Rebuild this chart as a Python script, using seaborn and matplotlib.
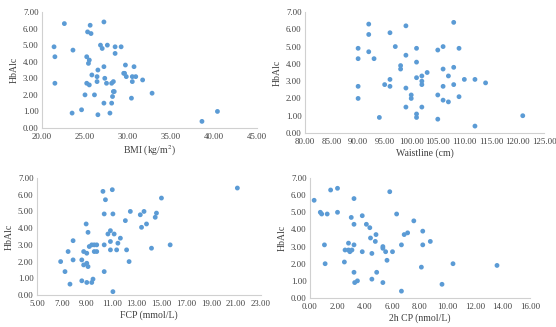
import numpy as np
import pandas as pd
import seaborn as sns
import matplotlib.pyplot as plt

# HbA1c vs BMI
bmi = [22.6, 25.6, 27.2, 25.3, 25.7, 21.4, 23.6, 26.8, 27.0, 27.6, 28.5, 29.2, 28.5,
       21.5, 25.2, 25.5, 25.4, 26.5, 27.2, 29.7, 30.7, 25.8, 26.4, 27.3, 29.5, 29.6,
       29.8, 30.5, 30.9, 30.5, 31.7, 21.5, 25.2, 25.5, 26.4, 27.5, 28.1, 28.3, 32.8,
       25.0, 26.1, 28.3, 28.4, 28.2, 30.4, 27.2, 28.1, 24.6, 23.5, 26.5, 27.9, 38.6, 40.4]
hba1c_bmi = [6.3, 6.2, 6.4, 5.8, 5.7, 4.9, 4.7, 5.0, 4.8, 5.0, 4.9, 4.9, 4.5,
             4.3, 4.3, 4.1, 3.9, 3.5, 3.7, 3.8, 3.7, 3.2, 3.1, 3.0, 3.3, 3.3,
             3.1, 3.1, 3.1, 2.8, 2.9, 2.7, 2.7, 2.6, 2.8, 2.7, 2.7, 2.8, 2.1,
             2.0, 2.0, 2.2, 2.2, 1.9, 1.8, 1.5, 1.5, 1.1, 0.9, 0.8, 0.9, 0.4, 1.0]

# HbA1c vs waistline
waist = [92, 99, 108, 92, 96, 90, 92, 97, 101, 105, 106, 109, 90, 93, 99, 101, 98, 98,
         106, 108, 103, 102, 107, 101, 96, 102, 110, 112, 114, 95, 96, 102, 106, 108,
         90, 99, 100, 100, 90, 105, 106, 107, 109, 99, 102, 101, 101, 94, 105, 112, 121]
hba1c_waist = [6.3, 6.2, 6.4, 5.7, 5.8, 4.9, 4.7, 5.0, 4.9, 4.8, 5.0, 4.9, 4.3, 4.3, 4.5,
               4.1, 3.9, 3.7, 3.7, 3.8, 3.5, 3.3, 3.3, 3.2, 3.1, 3.0, 3.1, 3.1, 2.9, 2.8,
               2.7, 2.8, 2.7, 2.8, 2.7, 2.6, 2.2, 2.0, 2.0, 2.2, 1.9, 1.8, 2.1, 1.5, 1.5,
               1.1, 0.9, 0.9, 0.8, 0.4, 1.0]

# HbA1c vs FCP
fcp = [6.9, 7.25, 7.65, 7.5, 7.9, 7.9, 8.6, 8.6, 8.75, 9.0, 8.75, 9.0, 9.1, 8.95, 9.1,
       9.0, 9.4, 9.5, 9.2, 9.4, 9.6, 9.8, 9.6, 9.8, 10.3, 10.4, 10.5, 10.4, 10.4, 11.05,
       11.1, 10.7, 10.9, 11.2, 10.9, 10.9, 11.1, 11.4, 11.5, 11.7, 12.1, 12.2, 12.4, 12.5,
       13.3, 13.6, 13.4, 13.8, 14.2, 14.5, 14.6, 15.0, 15.7, 21.1]
hba1c_fcp = [2.0, 1.4, 0.65, 2.6, 3.25, 2.1, 2.1, 0.85, 2.6, 2.5, 1.8, 1.9, 1.7, 4.25, 3.75,
             0.75, 0.75, 0.95, 2.9, 3.0, 3.0, 3.0, 2.6, 2.6, 6.2, 4.85, 5.7, 3.0, 1.4, 6.3,
             4.85, 3.65, 3.85, 3.65, 3.2, 2.7, 0.2, 2.7, 3.1, 3.4, 4.45, 2.7, 2.0, 5.0,
             4.8, 5.0, 4.05, 4.25, 2.8, 4.65, 4.9, 5.8, 3.0, 6.4]

# HbA1c vs 2h CP
cp2h = [0.3, 1.5, 2.0, 0.75, 0.85, 1.25, 2.0, 3.2, 3.0, 3.2, 3.8, 4.1, 4.35, 1.05, 1.1,
        2.5, 2.55, 2.8, 2.8, 2.9, 3.05, 3.2, 3.2, 3.25, 3.45, 3.8, 4.4, 4.5, 4.5, 4.75,
        4.8, 4.85, 5.3, 5.3, 5.3, 5.5, 5.6, 5.8, 6.0, 6.3, 6.65, 6.65, 6.85, 7.1, 7.55,
        8.1, 8.2, 8.2, 8.75, 9.6, 10.4, 13.6]
hba1c_cp2h = [5.7, 6.3, 6.4, 5.0, 4.9, 4.9, 5.0, 5.8, 4.7, 4.3, 4.8, 4.3, 4.1, 3.1, 2.0,
              2.1, 2.8, 3.2, 2.8, 2.7, 2.8, 3.1, 1.5, 0.9, 1.0, 2.7, 3.5, 2.6, 1.1, 3.3,
              3.7, 1.5, 3.0, 2.9, 0.9, 2.7, 2.2, 6.2, 2.7, 4.9, 3.1, 0.4, 3.7, 3.8, 4.5,
              1.8, 3.9, 3.1, 3.3, 0.8, 2.0, 1.9]

panels = [
    (bmi, hba1c_bmi, 'BMI (kg/m$^2$)', np.arange(20, 45.1, 5)),
    (waist, hba1c_waist, 'Waistline (cm)', np.arange(80, 125.1, 5)),
    (fcp, hba1c_fcp, 'FCP (mmol/L)', np.arange(5, 23.1, 2)),
    (cp2h, hba1c_cp2h, '2h CP (nmol/L)', np.arange(0, 16.1, 2)),
]

# axes rectangles in figure fractions (left, bottom, width, height)
rects = [
    (42 / 556, 1 - 128 / 327, 215 / 556, 116 / 327),
    (305 / 556, 1 - 133 / 327, 239 / 556, 121 / 327),
    (37 / 556, 1 - 295 / 327, 224 / 556, 117 / 327),
    (310 / 556, 1 - 298 / 327, 220 / 556, 120 / 327),
]

sns.set_theme(style='white')
plt.rcParams['font.family'] = ['Liberation Serif', 'DejaVu Serif']
plt.rcParams['mathtext.fontset'] = 'stix'

fig = plt.figure(figsize=(5.56, 3.27), dpi=100)
spine_col = '#d0d0d0'

for (x, y, xlabel, xticks), rect in zip(panels, rects):
    ax = fig.add_axes(rect)
    df = pd.DataFrame({'x': x, 'HbAlc': y})
    sns.scatterplot(data=df, x='x', y='HbAlc', ax=ax, color='#5b9bd5',
                    s=12, linewidth=0, edgecolor='none')
    ax.set_xlim(xticks[0], xticks[-1])
    ax.set_ylim(0, 7)
    ax.set_xticks(xticks)
    ax.set_yticks(np.arange(0, 7.1, 1))
    ax.set_xticklabels([f'{t:.2f}' for t in xticks])
    ax.set_yticklabels([f'{t:.2f}' for t in np.arange(0, 7.1, 1)])
    ax.set_xlabel(xlabel, fontsize=7, color='#404040', labelpad=2)
    ax.set_ylabel('HbAlc', fontsize=7, color='#404040', labelpad=3)
    ax.tick_params(labelsize=6.3, colors='#404040', length=0)
    ax.tick_params(axis='x', pad=3.5)
    ax.tick_params(axis='y', pad=2.5)
    for side in ['top', 'right']:
        ax.spines[side].set_visible(False)
    for side in ['left', 'bottom']:
        ax.spines[side].set_color(spine_col)
        ax.spines[side].set_linewidth(0.8)

fig.savefig('out.png', dpi=100)
